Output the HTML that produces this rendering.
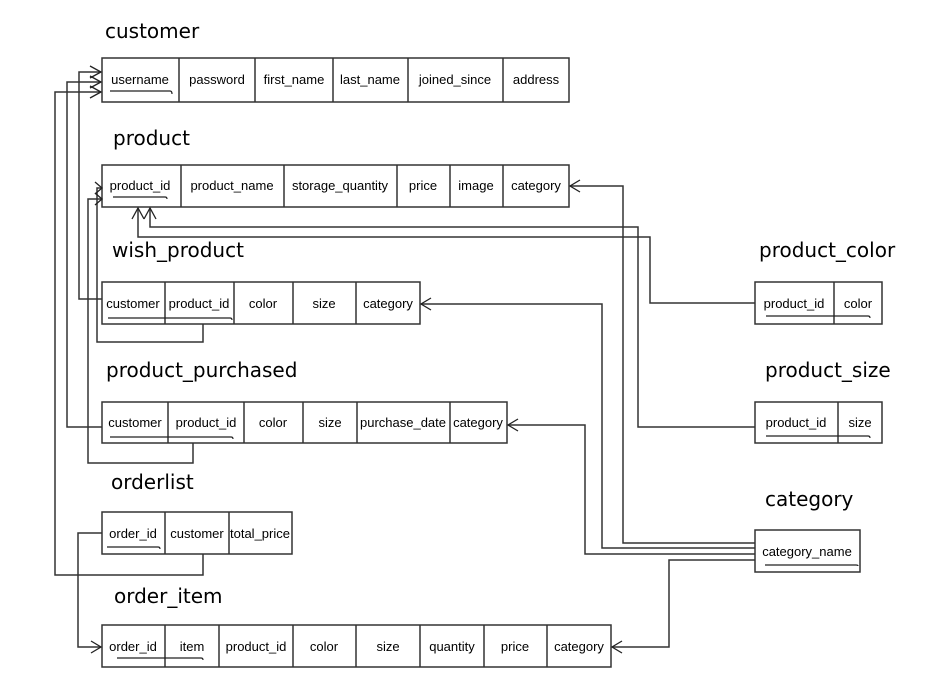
<!DOCTYPE html>
<html><head><meta charset="utf-8"><style>
html,body{margin:0;padding:0;background:#fff;}
svg{display:block;}
.t{font-family:"Liberation Sans",Arial,sans-serif;font-size:13px;fill:#000;}
.h{font-family:"DejaVu Sans","Liberation Sans",sans-serif;font-size:20px;fill:#000;}
</style></head><body>
<svg width="942" height="690" viewBox="0 0 942 690" xmlns="http://www.w3.org/2000/svg">
<g fill="none" stroke="#333" stroke-width="1.5">
<rect x="102" y="58" width="467" height="44"/>
<path d="M179 58V102M255 58V102M333 58V102M408 58V102M503 58V102"/>
<rect x="102" y="165" width="467" height="42"/>
<path d="M181 165V207M284 165V207M397 165V207M450 165V207M503 165V207"/>
<rect x="102" y="282" width="318" height="42"/>
<path d="M165 282V324M234 282V324M293 282V324M356 282V324"/>
<rect x="102" y="402" width="405" height="41"/>
<path d="M168 402V443M244 402V443M303 402V443M357 402V443M450 402V443"/>
<rect x="102" y="512" width="190" height="42"/>
<path d="M165 512V554M229 512V554"/>
<rect x="102" y="625" width="509" height="42"/>
<path d="M165 625V667M219 625V667M293 625V667M356 625V667M420 625V667M484 625V667M547 625V667"/>
<rect x="755" y="282" width="127" height="42"/>
<path d="M834 282V324"/>
<rect x="755" y="402" width="127" height="41"/>
<path d="M838 402V443"/>
<rect x="755" y="530" width="105" height="42"/>
</g>
<g fill="none" stroke="#222" stroke-width="1.2">
<path d="M110 91H170q2 0 2 3"/>
<path d="M113 197H165q2 0 2 2"/>
<path d="M108 318H230q2 0 2 2"/>
<path d="M110 437H231q2 0 2 2"/>
<path d="M107 547H158q2 0 2 2"/>
<path d="M117 658H201q2 0 2 2"/>
<path d="M766 316H868q2 0 2 2"/>
<path d="M766 436H868q2 0 2 2"/>
<path d="M765 565H856q2 0 2 1"/>
</g>
<g fill="none" stroke="#333" stroke-width="1.5">
<path d="M102 299H79V72H101"/>
<path d="M102 427H67V82H101"/>
<path d="M203 554V575H55V92H101"/>
<path d="M203 324V342H97V188H101"/>
<path d="M193 443V463H88V199H101"/>
<path d="M755 303H650V237H138V208"/>
<path d="M755 427H638V227H150V208"/>
<path d="M755 543H623V186H570"/>
<path d="M755 548H602V304H421"/>
<path d="M755 554H585V425H508"/>
<path d="M755 560H669V647H612"/>
<path d="M102 533H78V647H101"/>
</g>
<g fill="none" stroke="#222" stroke-width="1.3">
<path d="M90 66L101 72L90 78"/>
<path d="M90 76L101 82L90 88"/>
<path d="M90 86L101 92L90 98"/>
<path d="M95 182L102 188L95 194"/>
<path d="M95 193L102 199L95 205"/>
<path d="M132 219L138 208L144 219"/>
<path d="M144 219L150 208L156 219"/>
<path d="M580 180L570 186L580 192"/>
<path d="M431 298L421 304L431 310"/>
<path d="M518 419L508 425L518 431"/>
<path d="M622 641L612 647L622 653"/>
<path d="M91 641L101 647L91 653"/>
</g>
<text class="h" x="105" y="38">customer</text>
<text class="h" x="113" y="145">product</text>
<text class="h" x="112" y="257">wish_product</text>
<text class="h" x="106" y="377">product_purchased</text>
<text class="h" x="111" y="489">orderlist</text>
<text class="h" x="114" y="603">order_item</text>
<text class="h" x="759" y="257">product_color</text>
<text class="h" x="765" y="377">product_size</text>
<text class="h" x="765" y="506">category</text>
<g class="t" text-anchor="middle">
<text x="140" y="84">username</text><text x="217" y="84">password</text><text x="294" y="84">first_name</text><text x="370" y="84">last_name</text><text x="455" y="84">joined_since</text><text x="536" y="84">address</text>
<text x="140" y="190">product_id</text><text x="232" y="190">product_name</text><text x="340" y="190">storage_quantity</text><text x="423" y="190">price</text><text x="476" y="190">image</text><text x="536" y="190">category</text>
<text x="133" y="308">customer</text><text x="199" y="308">product_id</text><text x="263" y="308">color</text><text x="324" y="308">size</text><text x="388" y="308">category</text>
<text x="135" y="427">customer</text><text x="206" y="427">product_id</text><text x="273" y="427">color</text><text x="330" y="427">size</text><text x="403" y="427">purchase_date</text><text x="478" y="427">category</text>
<text x="133" y="538">order_id</text><text x="197" y="538">customer</text><text x="260" y="538">total_price</text>
<text x="133" y="651">order_id</text><text x="192" y="651">item</text><text x="256" y="651">product_id</text><text x="324" y="651">color</text><text x="388" y="651">size</text><text x="452" y="651">quantity</text><text x="515" y="651">price</text><text x="579" y="651">category</text>
<text x="794" y="308">product_id</text><text x="858" y="308">color</text>
<text x="796" y="427">product_id</text><text x="860" y="427">size</text>
<text x="807" y="556">category_name</text>
</g>
</svg>
</body></html>
